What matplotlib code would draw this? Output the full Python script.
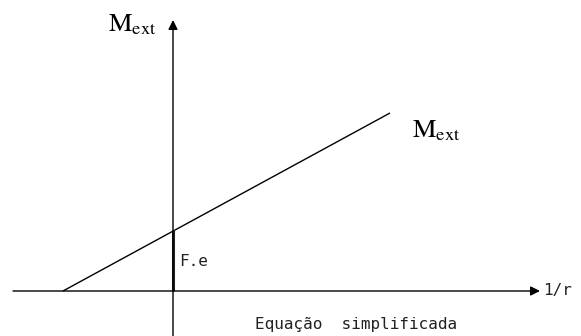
import matplotlib
matplotlib.use("Agg")
import matplotlib.pyplot as plt

# Data (arbitrary units, origin at axes intersection)
line_x = [-110, 217]          # M_ext line, 1/r values
line_y = [0, 178]             # M_ext values
fe_value = 61                 # F.e intercept
x_axis_range = [-160, 367]
y_axis_range = [-46, 271]

plt.rcParams['mathtext.fontset'] = 'stix'

fig = plt.figure(figsize=(5.81, 3.36), dpi=100)
ax = fig.add_axes([0, 0, 1, 1])
ax.set_xlim(-173, 408)
ax.set_ylim(-45, 291)
ax.axis('off')

# axes with arrows
ax.annotate('', xy=(x_axis_range[1], 0), xytext=(x_axis_range[0], 0),
            arrowprops=dict(arrowstyle='-|>', color='black', lw=1.0,
                            mutation_scale=14, shrinkA=0, shrinkB=0))
ax.annotate('', xy=(0, y_axis_range[1]), xytext=(0, y_axis_range[0]),
            arrowprops=dict(arrowstyle='-|>', color='black', lw=1.0,
                            mutation_scale=14, shrinkA=0, shrinkB=0))

# M_ext line
ax.plot(line_x, line_y, color='black', lw=1.0, solid_capstyle='butt')

# F.e segment
ax.plot([0, 0], [0, fe_value], color='#222222', lw=2.2, solid_capstyle='butt')

cad = dict(family=['DejaVu Sans Mono'], fontsize=11.5, color='#222222')
ax.text(6, 30, 'F.e', ha='left', va='center', **cad)
ax.text(370, 0, '1/r', ha='left', va='center', **cad)
ax.text(82, -34, 'Equação  simplificada', ha='left', va='center', **cad)

ax.text(-65, 260, r'$\mathrm{M}_{\mathrm{ext}}$', ha='left', va='baseline', fontsize=19)
ax.text(239, 154, r'$\mathrm{M}_{\mathrm{ext}}$', ha='left', va='baseline', fontsize=19)

fig.savefig('out.png', dpi=100)
